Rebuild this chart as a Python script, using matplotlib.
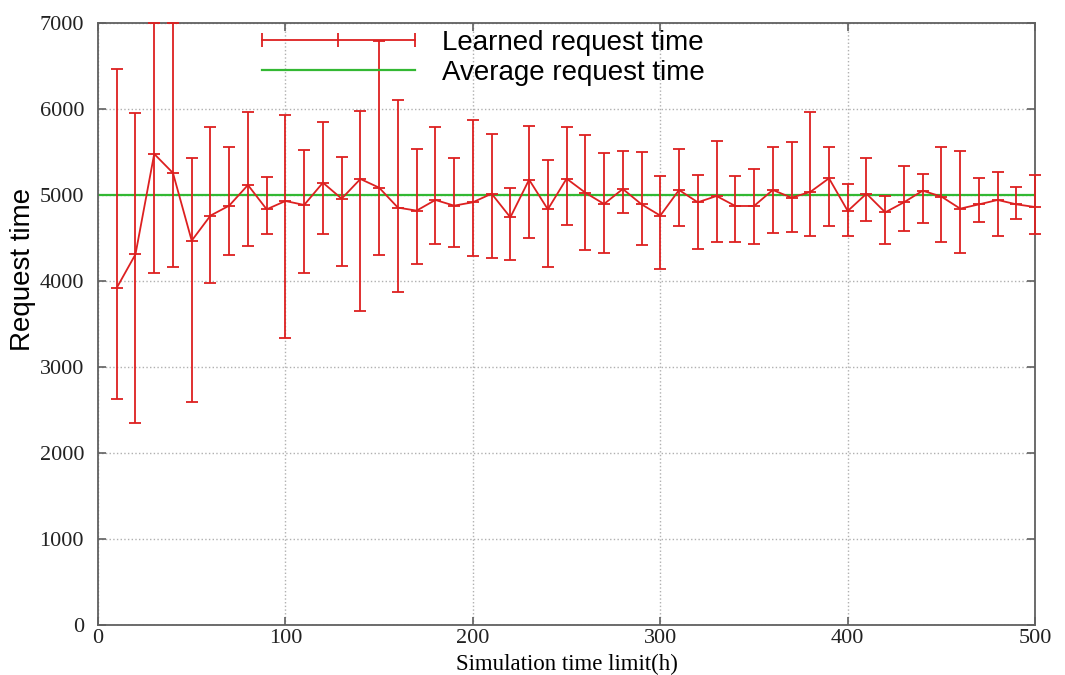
import numpy as np
import matplotlib
matplotlib.use('Agg')
import matplotlib.pyplot as plt
from matplotlib.lines import Line2D

# simulation time limit (h)
sim_time = [10, 20, 30, 40, 50, 60, 70, 80, 90, 100,
            110, 120, 130, 140, 150, 160, 170, 180, 190, 200,
            210, 220, 230, 240, 250, 260, 270, 280, 290, 300,
            310, 320, 330, 340, 350, 360, 370, 380, 390, 400,
            410, 420, 430, 440, 450, 460, 470, 480, 490, 500]

# learned request time (mean)
learned = [3920, 4310, 5477, 5256, 4469, 4760, 4876, 5116, 4833, 4930,
           4884, 5143, 4957, 5186, 5085, 4853, 4818, 4942, 4876, 4915,
           5015, 4740, 5178, 4833, 5190, 5027, 4895, 5070, 4891, 4760,
           5058, 4915, 4988, 4872, 4872, 5058, 4969, 5035, 5194, 4814,
           5015, 4798, 4915, 5050, 4981, 4841, 4891, 4942, 4891, 4860]

# lower end of the error bars
low = [2628, 2349, 4089, 4167, 2593, 3973, 4302, 4407, 4550, 3333,
       4089, 4543, 4174, 3651, 4302, 3872, 4201, 4426, 4399, 4294,
       4263, 4240, 4496, 4163, 4651, 4364, 4322, 4787, 4419, 4140,
       4643, 4372, 4453, 4453, 4426, 4554, 4570, 4519, 4643, 4519,
       4702, 4434, 4581, 4671, 4450, 4322, 4682, 4527, 4717, 4543]

# upper end of the error bars
high = [6465, 5950, 7000, 7000, 5426, 5787, 5562, 5969, 5213, 5930,
        5523, 5845, 5445, 5977, 6791, 6105, 5531, 5787, 5426, 5872,
        5705, 5077, 5806, 5407, 5787, 5694, 5492, 5512, 5503, 5225,
        5531, 5233, 5628, 5225, 5306, 5562, 5616, 5962, 5562, 5131,
        5426, 4988, 5337, 5244, 5562, 5512, 5194, 5262, 5093, 5233]

average = 5000

red = '#dd2020'
green = '#33b833'

mean = np.array(learned)
yerr = [mean - np.array(low), np.array(high) - mean]

fig = plt.figure(figsize=(10.65, 6.75), dpi=100)
ax = fig.add_axes([0.092, 0.074, 0.88, 0.892])

ax.axhline(average, color=green, lw=1.6, zorder=2)
ax.errorbar(sim_time, mean, yerr=yerr, fmt='-', color=red, ecolor=red,
            lw=1.3, elinewidth=1.3, capsize=4.5, capthick=1.3,
            marker='_', ms=9, mew=1.3, zorder=3, clip_on=False)

ax.set_xlim(0, 500)
ax.set_ylim(0, 7000)
ax.set_xticks(np.arange(0, 501, 100))
ax.set_yticks(np.arange(0, 7001, 1000))
ax.grid(True, linestyle=':', color='#b0b0b0', lw=1.0)
ax.set_axisbelow(True)

for s in ax.spines.values():
    s.set_color('#606060')
    s.set_linewidth(1.3)
ax.tick_params(direction='in', length=6, width=1.2, color='#606060',
               top=True, right=True)
ax.tick_params(axis='x', pad=3)
ax.tick_params(axis='y', pad=10)
for lab in ax.get_xticklabels() + ax.get_yticklabels():
    lab.set_family('Liberation Serif')
    lab.set_fontsize(16)
    lab.set_color('#222222')

ax.set_xlabel('Simulation time limit(h)', family='Liberation Serif', fontsize=16.5, labelpad=4)
ax.set_ylabel('Request time', family='Liberation Sans', fontsize=20)
ax.yaxis.set_label_coords(-0.066, 0.591)

handles = [Line2D([], [], color=red, lw=1.3, marker='|', ms=10, mew=1.3),
           Line2D([], [], color=green, lw=1.6)]
fig.legend(handles, ['Learned request time', 'Average request time'],
           loc='upper left', bbox_to_anchor=(0.238, 0.956), frameon=False,
           numpoints=3, handlelength=6.1, handletextpad=0.67, labelspacing=0.15,
           borderpad=0, borderaxespad=0,
           prop={'family': 'Liberation Sans', 'size': 20})

plt.savefig('out.png', dpi=100)
